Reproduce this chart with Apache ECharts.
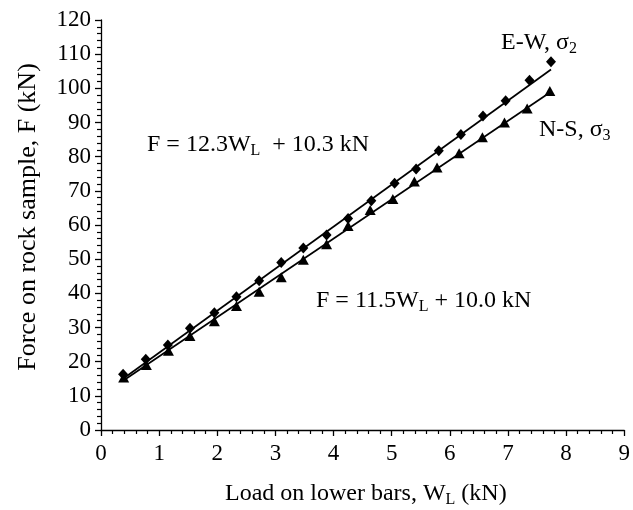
<!DOCTYPE html>
<html>
<head>
<meta charset="utf-8">
<script src="https://cdn.jsdelivr.net/npm/echarts@6/dist/echarts.min.js"></script>
<style>html,body{margin:0;padding:0;background:#fff}#c{width:633px;height:510px}</style>
</head>
<body>
<div id="c"></div>
<script>
// Load on lower bars W_L (kN)
const loadEW = [0.38, 0.77, 1.15, 1.53, 1.95, 2.33, 2.72, 3.10, 3.48, 3.88, 4.25, 4.65, 5.05, 5.42, 5.81, 6.19, 6.57, 6.96, 7.37, 7.74];
const forceEW = [16.3, 20.7, 24.9, 29.8, 34.3, 39.0, 43.7, 49.0, 53.3, 57.1, 61.9, 67.1, 72.2, 76.4, 81.7, 86.5, 91.9, 96.4, 102.4, 107.8];
const loadNS = [0.39, 0.78, 1.16, 1.53, 1.95, 2.33, 2.72, 3.10, 3.48, 3.88, 4.25, 4.63, 5.02, 5.39, 5.78, 6.16, 6.56, 6.94, 7.33, 7.72];
const forceNS = [15.4, 19.0, 23.2, 27.5, 31.8, 36.3, 40.5, 44.7, 49.8, 54.4, 59.7, 64.4, 67.6, 72.7, 76.8, 81.0, 85.7, 90.0, 94.1, 99.2];
// fitted lines (end points)
const fitEWx = [0.38, 7.74];
const fitEWy = [15.0, 105.5];
const fitNSx = [0.38, 7.74];
const fitNSy = [14.4, 99.0];
const xTicks = [0, 1, 2, 3, 4, 5, 6, 7, 8, 9];
const yTicks = [0, 10, 20, 30, 40, 50, 60, 70, 80, 90, 100, 110, 120];

const FONT = 'Liberation Serif';
const zip = (a, b) => a.map((v, i) => [v, b[i]]);

const chart = echarts.init(document.getElementById('c'), null, {renderer: 'canvas'});

function axisCommon(ticks) {
  return {
    type: 'value',
    min: ticks[0],
    max: ticks[ticks.length - 1],
    interval: ticks[1] - ticks[0],
    axisLine: {show: true, onZero: false, lineStyle: {color: '#000', width: 1.3}},
    axisTick: {show: true, inside: false, length: 6, lineStyle: {color: '#000', width: 1.3}},
    minorTick: {show: true, splitNumber: 5, length: 4, lineStyle: {color: '#000', width: 1.2}},
    splitLine: {show: false},
    minorSplitLine: {show: false},
    axisLabel: {color: '#000', fontFamily: FONT, fontSize: 23}
  };
}

const xAxis = axisCommon(xTicks);
xAxis.axisLabel.margin = 12;
const yAxis = axisCommon(yTicks);
yAxis.axisLabel.margin = 10;

const rn = {fontFamily: FONT, fontSize: 24, fill: '#000', lineHeight: 28, verticalAlign: 'middle'};
const rs = {fontFamily: FONT, fontSize: 16, fill: '#000', lineHeight: 10, verticalAlign: 'bottom'};

chart.setOption({
  animation: false,
  backgroundColor: '#fff',
  grid: {left: 101, right: 5, top: 20, bottom: 80, containLabel: false},
  xAxis: xAxis,
  yAxis: yAxis,
  series: [
    {type: 'line', data: zip(fitEWx, fitEWy), symbol: 'none', lineStyle: {color: '#000', width: 1.7}, z: 2},
    {type: 'line', data: zip(fitNSx, fitNSy), symbol: 'none', lineStyle: {color: '#000', width: 1.7}, z: 2},
    {type: 'scatter', data: zip(loadEW, forceEW), symbol: 'diamond', symbolSize: [10, 11], itemStyle: {color: '#000', opacity: 1}, z: 3},
    {type: 'scatter', data: zip(loadNS, forceNS), symbol: 'triangle', symbolSize: [11, 10], itemStyle: {color: '#000', opacity: 1}, z: 3}
  ],
  graphic: [
    {type: 'text', left: 147, top: 133, style: {text: '{n|F = 12.3W}{s|L}{n|  + 10.3 kN}', rich: {n: rn, s: rs}}},
    {type: 'text', left: 316, top: 289, style: {text: '{n|F = 11.5W}{s|L}{n| + 10.0 kN}', rich: {n: rn, s: rs}}},
    {type: 'text', left: 501, top: 31, style: {text: '{n|E-W, σ}{s|2}', rich: {n: rn, s: rs}}},
    {type: 'text', left: 539, top: 118, style: {text: '{n|N-S, σ}{s|3}', rich: {n: rn, s: rs}}},
    {type: 'text', x: 28, y: 217, rotation: Math.PI / 2, style: {text: 'Force on rock sample, F (kN)', fontFamily: FONT, fontSize: 26, fill: '#000', align: 'center', verticalAlign: 'middle'}},
    {type: 'text', left: 225, top: 482, style: {text: '{n|Load on lower bars, W}{s|L}{n| (kN)}', rich: {n: rn, s: rs}}}
  ]
});
</script>
</body>
</html>
